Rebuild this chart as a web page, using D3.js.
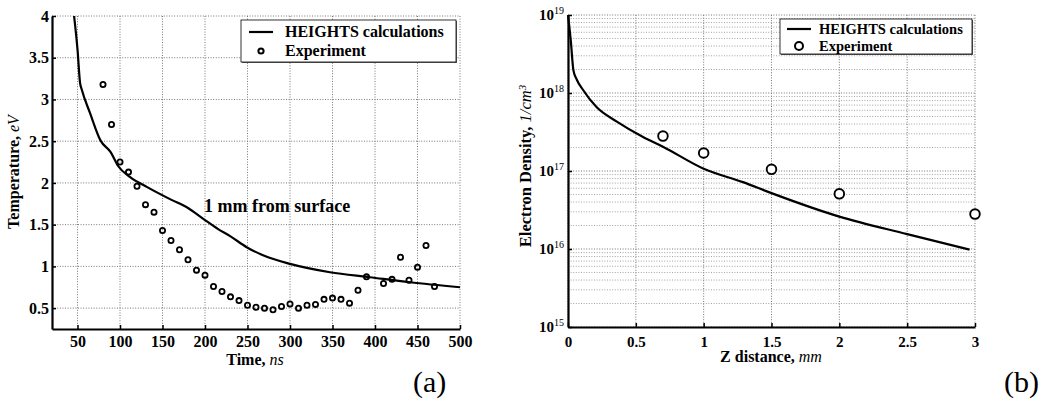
<!DOCTYPE html>
<html lang="en">
<head>
<meta charset="UTF-8">
<script src="https://d3js.org/d3.v7.min.js"></script>
<title>HEIGHTS vs experiment</title>
<style>
  body { margin: 0; background: #fff; }
  text { font-family: "Liberation Serif", "Times New Roman", serif; }
</style>
</head>
<body>
<script>
// (a) temperature vs time
var tempCalcTime = [46, 50, 53, 55, 65, 77, 89, 98, 112, 132, 160, 180, 198, 215, 230, 249, 269, 300, 347, 394, 441, 500];
var tempCalc     = [4.0, 3.6, 3.2, 3.12, 2.83, 2.51, 2.37, 2.2, 2.07, 1.95, 1.8, 1.7, 1.57, 1.45, 1.36, 1.23, 1.13, 1.03, 0.93, 0.87, 0.81, 0.75];
var tempExpTime  = [80, 90, 100, 110, 120, 130, 140, 150, 160, 170, 180, 190, 200, 210, 220, 230, 240, 250, 260, 270, 280, 290, 300, 310, 320, 330, 340, 350, 360, 370, 380, 390, 410, 420, 430, 440, 450, 460, 470];
var tempExp      = [3.18, 2.70, 2.25, 2.13, 1.96, 1.74, 1.65, 1.43, 1.31, 1.20, 1.08, 0.955, 0.895, 0.76, 0.70, 0.635, 0.59, 0.535, 0.51, 0.50, 0.48, 0.52, 0.55, 0.50, 0.535, 0.545, 0.605, 0.62, 0.605, 0.56, 0.715, 0.875, 0.795, 0.845, 1.11, 0.835, 0.99, 1.25, 0.76];
var tempXTicks   = [50, 100, 150, 200, 250, 300, 350, 400, 450, 500];
var tempYTicks   = [0.5, 1, 1.5, 2, 2.5, 3, 3.5, 4];

// (b) electron density vs distance
var densCalcZ = [0.0, 0.01, 0.02, 0.04, 0.065, 0.11, 0.21, 0.36, 0.55, 0.70, 1.0, 1.29, 1.5, 2.0, 2.5, 2.96];
var densCalc  = [1e19, 7e18, 4.8e18, 1.95e18, 1.48e18, 1.1e18, 6.6e17, 4.3e17, 2.75e17, 2.05e17, 1.07e17, 7.2e16, 5.2e16, 2.6e16, 1.55e16, 9.8e15];
var densExpZ  = [0.7, 1.0, 1.5, 2.0, 3.0];
var densExp   = [2.8e17, 1.7e17, 1.05e17, 5.1e16, 2.8e16];
var densXTicks = [0, 0.5, 1, 1.5, 2, 2.5, 3];
var densYExps  = [15, 16, 17, 18, 19];

var W = 1047, H = 406;
var svg = d3.select("body").append("svg").attr("width", W).attr("height", H);

var gridColor = "#777", gridDash = "1,1.6";

function styleAxis(g, fs) {
    g.select(".domain").attr("stroke-width", 2.2);
    g.selectAll(".tick line").attr("stroke-width", 1.5);
    g.selectAll("text").attr("font-size", fs).attr("font-weight", "bold")
        .attr("font-family", "Liberation Serif");
}

// o: box x,y,w,h ; line/circle/text offsets inside the box
function legend(o) {
    var g = svg.append("g").attr("transform", "translate(" + o.x + "," + o.y + ")");
    g.append("rect").attr("x", 1).attr("y", 1).attr("width", o.w).attr("height", o.h).attr("fill", "#666");
    g.append("rect").attr("width", o.w).attr("height", o.h).attr("fill", "#fff").attr("stroke", "#000").attr("stroke-width", 0.8);
    g.append("line").attr("x1", o.lx).attr("x2", o.lx + 24).attr("y1", o.y1).attr("y2", o.y1)
        .attr("stroke", "#000").attr("stroke-width", 2.2);
    g.append("circle").attr("cx", o.lx + 12).attr("cy", o.y2).attr("r", o.r)
        .attr("fill", "none").attr("stroke", "#000").attr("stroke-width", 2);
    g.append("text").attr("x", o.tx).attr("y", o.y1 + o.fs * 0.33).attr("font-size", o.fs)
        .attr("font-weight", "bold").text("HEIGHTS calculations");
    g.append("text").attr("x", o.tx).attr("y", o.y2 + o.fs * 0.33).attr("font-size", o.fs)
        .attr("font-weight", "bold").text("Experiment");
}

// ---------- (a) ----------
var xa = d3.scaleLinear().domain([20, 500]).range([52, 460]);
var ya = d3.scaleLinear().domain([0.25, 4]).range([329, 16]);

var ga = svg.append("g");
ga.selectAll(".vg").data(tempXTicks).enter().append("line")
    .attr("x1", function (d) { return xa(d); }).attr("x2", function (d) { return xa(d); })
    .attr("y1", ya(4)).attr("y2", ya(0.25))
    .attr("stroke", gridColor).attr("stroke-dasharray", gridDash).attr("stroke-width", 1);
ga.selectAll(".hg").data(tempYTicks).enter().append("line")
    .attr("x1", xa(20)).attr("x2", xa(500))
    .attr("y1", function (d) { return ya(d); }).attr("y2", function (d) { return ya(d); })
    .attr("stroke", gridColor).attr("stroke-dasharray", gridDash).attr("stroke-width", 1);

ga.append("g").attr("transform", "translate(0," + ya(0.25) + ")")
    .call(d3.axisBottom(xa).tickValues(tempXTicks).tickSizeInner(-4).tickSizeOuter(0).tickPadding(7))
    .call(styleAxis, 16);
ga.append("g").attr("transform", "translate(" + xa(20) + ",0)")
    .call(d3.axisLeft(ya).tickValues(tempYTicks).tickSizeInner(-4).tickSizeOuter(0).tickPadding(3)
        .tickFormat(d3.format("~g")))
    .call(styleAxis, 16);

var lineA = d3.line()
    .x(function (d, i) { return xa(tempCalcTime[i]); })
    .y(function (d) { return ya(d); })
    .curve(d3.curveMonotoneX);
ga.append("path").datum(tempCalc).attr("d", lineA)
    .attr("fill", "none").attr("stroke", "#000").attr("stroke-width", 2.2);

ga.selectAll(".pa").data(tempExp).enter().append("circle")
    .attr("cx", function (d, i) { return xa(tempExpTime[i]); })
    .attr("cy", function (d) { return ya(d); })
    .attr("r", 2.6).attr("fill", "none").attr("stroke", "#000").attr("stroke-width", 1.8);

ga.append("text").attr("x", 204).attr("y", 212).attr("font-size", 18).attr("font-weight", "bold")
    .text("1 mm from surface");

legend({x: 241, y: 20, w: 215, h: 42, lx: 8, tx: 44, y1: 12, y2: 31, r: 2.6, fs: 16});

ga.append("text").attr("transform", "translate(19,172) rotate(-90)")
    .attr("text-anchor", "middle").attr("font-size", 16).attr("font-weight", "bold")
    .html('Temperature, <tspan font-style="italic" font-weight="normal">eV</tspan>');
ga.append("text").attr("x", 255).attr("y", 365).attr("text-anchor", "middle")
    .attr("font-size", 16).attr("font-weight", "bold")
    .html('Time, <tspan font-style="italic" font-weight="normal">ns</tspan>');
ga.append("text").attr("x", 413).attr("y", 392).attr("font-size", 30).text("(a)");

// ---------- (b) ----------
var xb = d3.scaleLinear().domain([0, 3]).range([568, 975]);
var yb = d3.scaleLog().domain([1e15, 1e19]).range([327, 15]);

var gb = svg.append("g");
var minorVals = [];
densYExps.slice(0, -1).forEach(function (e) {
    for (var k = 2; k <= 9; k++) minorVals.push(k * Math.pow(10, e));
});
gb.selectAll(".mg").data(minorVals).enter().append("line")
    .attr("x1", xb(0)).attr("x2", xb(3))
    .attr("y1", function (d) { return yb(d); }).attr("y2", function (d) { return yb(d); })
    .attr("stroke", "#999").attr("stroke-dasharray", gridDash).attr("stroke-width", 0.9);
gb.selectAll(".hgb").data(densYExps).enter().append("line")
    .attr("x1", xb(0)).attr("x2", xb(3))
    .attr("y1", function (d) { return yb(Math.pow(10, d)); }).attr("y2", function (d) { return yb(Math.pow(10, d)); })
    .attr("stroke", gridColor).attr("stroke-dasharray", gridDash).attr("stroke-width", 1);
gb.selectAll(".vgb").data(densXTicks).enter().append("line")
    .attr("x1", function (d) { return xb(d); }).attr("x2", function (d) { return xb(d); })
    .attr("y1", yb(1e19)).attr("y2", yb(1e15))
    .attr("stroke", gridColor).attr("stroke-dasharray", gridDash).attr("stroke-width", 1);

gb.append("g").attr("transform", "translate(0," + yb(1e15) + ")")
    .call(d3.axisBottom(xb).tickValues(densXTicks).tickSizeInner(-4).tickSizeOuter(0).tickPadding(9)
        .tickFormat(d3.format("~g")))
    .call(styleAxis, 15);
var yAxisB = gb.append("g").attr("transform", "translate(" + xb(0) + ",0)")
    .call(d3.axisLeft(yb).tickValues(densYExps.map(function (e) { return Math.pow(10, e); }))
        .tickSizeInner(-4).tickSizeOuter(0).tickPadding(4).tickFormat(function () { return ""; }))
    .call(styleAxis, 15);
yAxisB.selectAll(".tick text")
    .each(function (d) {
        var t = d3.select(this);
        t.append("tspan").text("10");
        t.append("tspan").attr("dy", "-0.6em").attr("font-size", 10).attr("font-weight", "normal")
            .text(Math.round(Math.log10(d)));
    });

var lineB = d3.line()
    .x(function (d, i) { return xb(densCalcZ[i]); })
    .y(function (d) { return yb(d); })
    .curve(d3.curveMonotoneX);
gb.append("path").datum(densCalc).attr("d", lineB)
    .attr("fill", "none").attr("stroke", "#000").attr("stroke-width", 2.2);

gb.selectAll(".pb").data(densExp).enter().append("circle")
    .attr("cx", function (d, i) { return xb(densExpZ[i]); })
    .attr("cy", function (d) { return yb(d); })
    .attr("r", 4.8).attr("fill", "#fff").attr("stroke", "#000").attr("stroke-width", 1.9);

legend({x: 780, y: 19, w: 192, h: 35, lx: 7, tx: 39, y1: 10, y2: 27, r: 4, fs: 14.5});

gb.append("text").attr("transform", "translate(531,166) rotate(-90)")
    .attr("text-anchor", "middle").attr("font-size", 16.5).attr("font-weight", "bold")
    .html('Electron Density, <tspan font-style="italic" font-weight="normal">1/cm</tspan><tspan font-style="italic" font-weight="normal" dy="-0.5em" font-size="11">3</tspan>');
gb.append("text").attr("x", 771).attr("y", 362).attr("text-anchor", "middle")
    .attr("font-size", 16).attr("font-weight", "bold")
    .html('Z distance, <tspan font-style="italic" font-weight="normal">mm</tspan>');
gb.append("text").attr("x", 1004).attr("y", 392).attr("font-size", 30).text("(b)");
</script>
</body>
</html>
